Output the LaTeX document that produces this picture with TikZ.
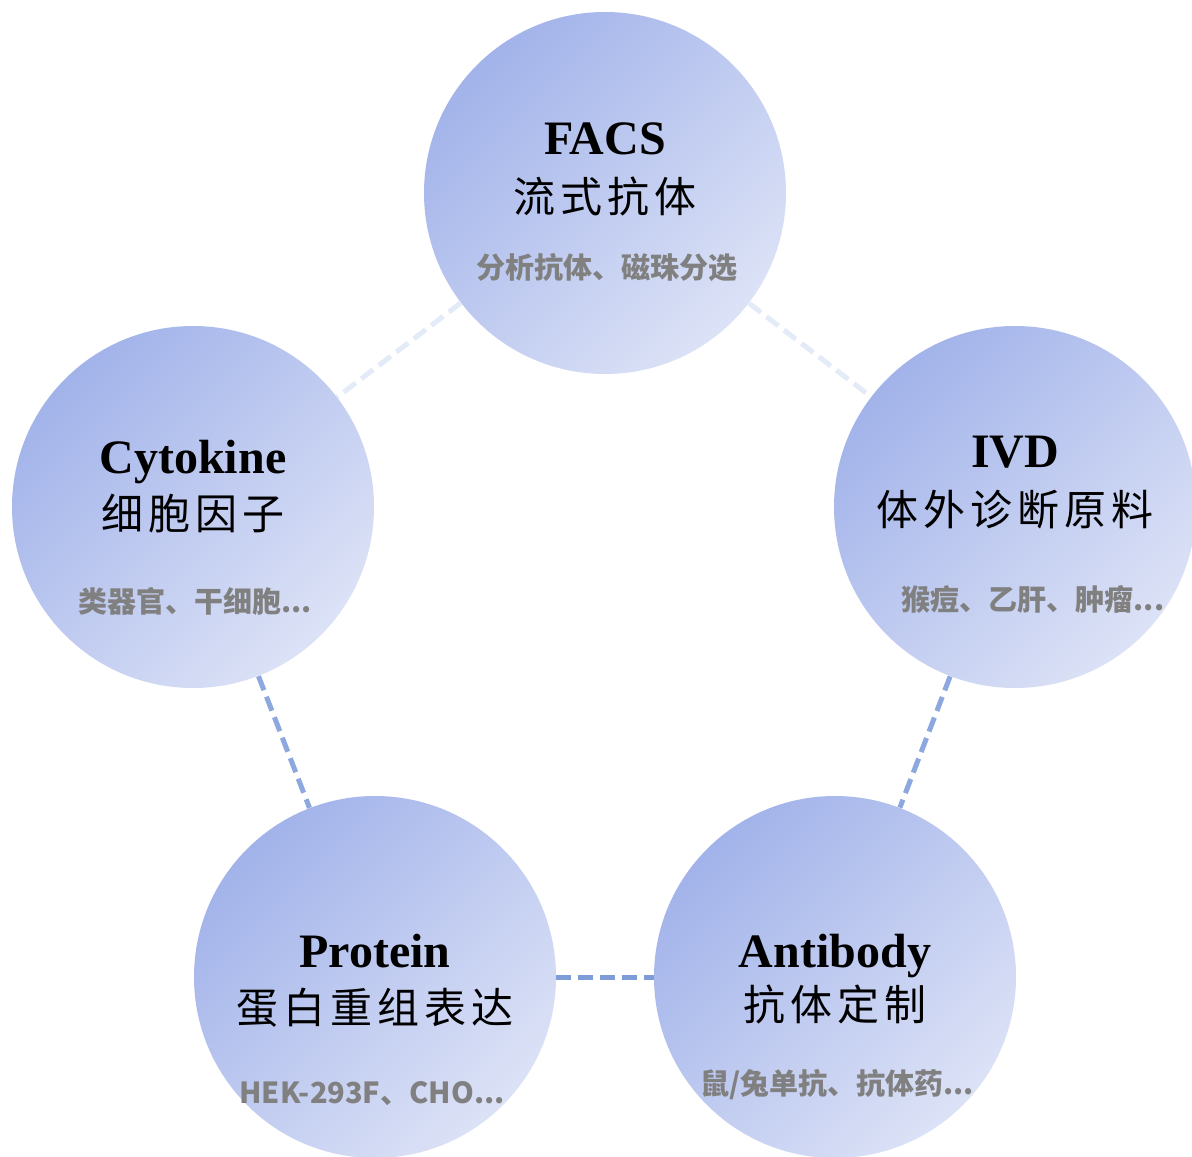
\documentclass[tikz,border=0pt]{standalone}
\usepackage{fontspec}
\setmainfont{Liberation Serif}
\newfontfamily\cjk[LetterSpace=12]{Noto Sans CJK SC}
\newfontfamily\cjknote{Noto Sans CJK SC}
\usetikzlibrary{positioning}

\definecolor{bubbletop}{HTML}{A2B3EA}
\definecolor{bubblebot}{HTML}{DCE2F6}
\definecolor{linkpale}{HTML}{E4EBF8}
\definecolor{linkmid}{HTML}{8DA8DE}
\definecolor{linkdark}{HTML}{7E9CD8}
\definecolor{notegray}{HTML}{808080}

\begin{document}
\begin{tikzpicture}[
  x=0.5pt, y=-0.5pt,
  bubble/.style={
    circle,
    minimum size=181pt,
    inner sep=0pt,
    top color=bubbletop,
    bottom color=bubblebot,
    shading angle=45
  },
  title/.style={anchor=base, inner sep=0pt, font=\fontsize{24}{28}\selectfont\bfseries},
  subtitle/.style={anchor=base, inner sep=0pt, font=\fontsize{21}{25}\selectfont\cjk},
  note/.style={anchor=base, inner sep=0pt, text=notegray, font=\fontsize{14.5}{17}\selectfont\cjknote\bfseries},
  link/.style={line width=2.5pt, dash pattern=on 7.5pt off 3.5pt}
]
\clip (0,0) rectangle (1192,1156);
\fill[white] (0,0) rectangle (1192,1156);

% Cercles
\node[bubble] (facs) at (605,193) {};
\node[bubble] (cyto) at (193,507) {};
\node[bubble] (ivd) at (1015,507) {};
\node[bubble] (prot) at (375,977) {};
\node[bubble] (anti) at (835,977) {};

% Liens en pointillés
\draw[link, draw=linkpale] (facs) -- (cyto);
\draw[link, draw=linkpale] (facs) -- (ivd);
\draw[link, draw=linkmid] (cyto) -- (prot);
\draw[link, draw=linkmid] (ivd) -- (anti);
\draw[link, draw=linkdark] (prot) -- (anti);

% Textes
\node[title] (facs-en) at ([yshift=19pt]facs.center) {FACS};
\node[subtitle] (facs-zh) at ([yshift=-9.5pt]facs.center) {流式抗体};
\node[note] (facs-note) at ([xshift=1pt,yshift=-42.5pt]facs.center) {分析抗体、磁珠分选};

\node[title] (cyto-en) at ([yshift=17pt]cyto.center) {Cytokine};
\node[subtitle] (cyto-zh) at ([yshift=-11pt]cyto.center) {细胞因子};
\node[note] (cyto-note) at ([xshift=1pt,yshift=-52.5pt]cyto.center) {类器官、干细胞...};

\node[title] (ivd-en) at ([yshift=20pt]ivd.center) {IVD};
\node[subtitle] (ivd-zh) at ([yshift=-9pt]ivd.center) {体外诊断原料};
\node[note] (ivd-note) at ([xshift=9pt,yshift=-51.5pt]ivd.center) {猴痘、乙肝、肿瘤...};

\node[title] (prot-en) at ([yshift=5pt]prot.center) {Protein};
\node[subtitle] (prot-zh) at ([yshift=-23pt]prot.center) {蛋白重组表达};
\node[note] (prot-note) at ([xshift=-1.5pt,yshift=-63pt]prot.center) {HEK-293F、CHO...};

\node[title] (anti-en) at ([yshift=5pt]anti.center) {Antibody};
\node[subtitle] (anti-zh) at ([yshift=-21.5pt]anti.center) {抗体定制};
\node[note] (anti-note) at ([xshift=1pt,yshift=-58.5pt]anti.center) {鼠/兔单抗、抗体药...};
\end{tikzpicture}
\end{document}
